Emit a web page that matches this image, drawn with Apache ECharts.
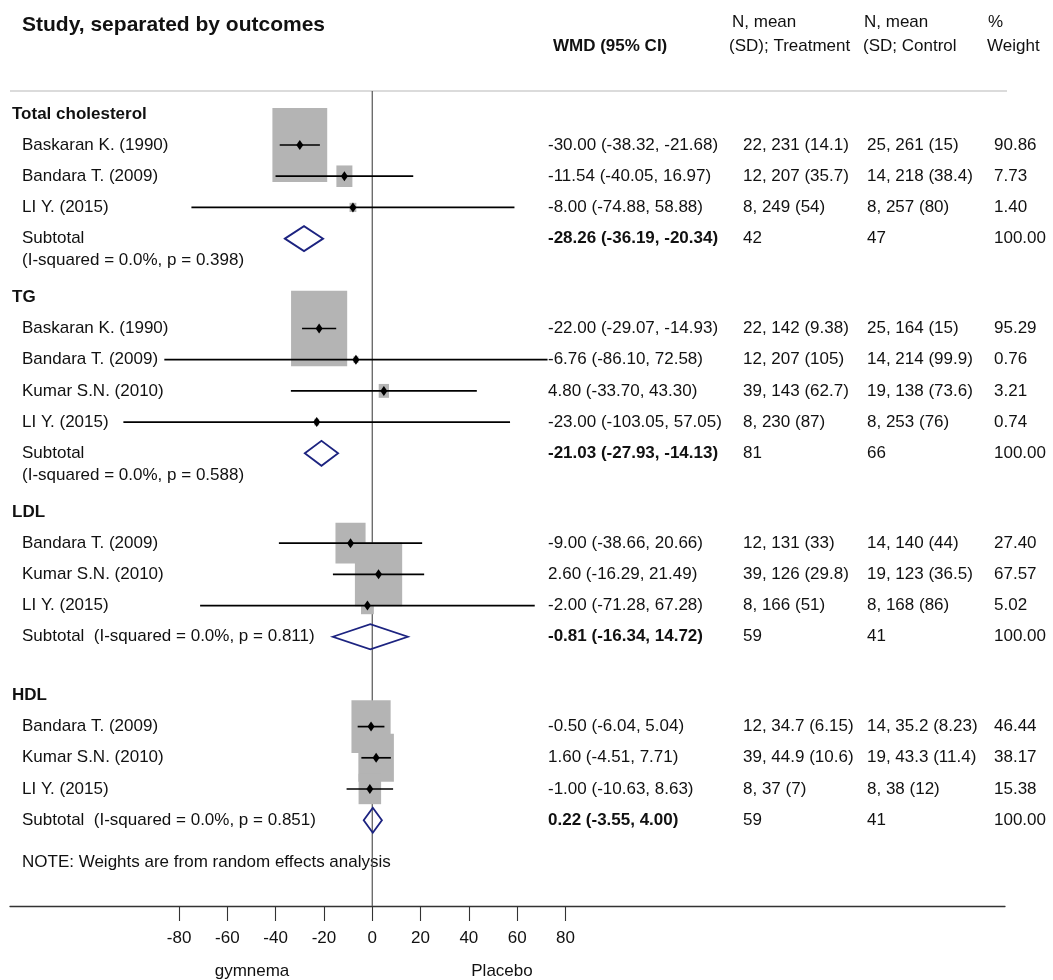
<!DOCTYPE html>
<html>
<head>
<meta charset="utf-8">
<title>Forest plot</title>
<script src="https://cdn.jsdelivr.net/npm/echarts@6/dist/echarts.min.js"></script>
<style>
  html, body { margin: 0; padding: 0; background: #fff; }
  #chart { width: 1053px; height: 980px; }
</style>
</head>
<body>
<div id="chart"></div>
<script>
// outcomes and studies
const outcomes = ['Total cholesterol', 'TG', 'LDL', 'HDL'];
const studyOutcome = [0, 0, 0, 1, 1, 1, 1, 2, 2, 2, 3, 3, 3];
const studyNames = [
  'Baskaran K. (1990)', 'Bandara T. (2009)', 'LI Y. (2015)',
  'Baskaran K. (1990)', 'Bandara T. (2009)', 'Kumar S.N. (2010)', 'LI Y. (2015)',
  'Bandara T. (2009)', 'Kumar S.N. (2010)', 'LI Y. (2015)',
  'Bandara T. (2009)', 'Kumar S.N. (2010)', 'LI Y. (2015)',
];
const studyWmd = [-30.00, -11.54, -8.00, -22.00, -6.76, 4.80, -23.00, -9.00, 2.60, -2.00, -0.50, 1.60, -1.00];
const studyLow = [-38.32, -40.05, -74.88, -29.07, -86.10, -33.70, -103.05, -38.66, -16.29, -71.28, -6.04, -4.51, -10.63];
const studyHigh = [-21.68, 16.97, 58.88, -14.93, 72.58, 43.30, 57.05, 20.66, 21.49, 67.28, 5.04, 7.71, 8.63];
const studyTreatment = [
  '22, 231 (14.1)', '12, 207 (35.7)', '8, 249 (54)',
  '22, 142 (9.38)', '12, 207 (105)', '39, 143 (62.7)', '8, 230 (87)',
  '12, 131 (33)', '39, 126 (29.8)', '8, 166 (51)',
  '12, 34.7 (6.15)', '39, 44.9 (10.6)', '8, 37 (7)',
];
const studyControl = [
  '25, 261 (15)', '14, 218 (38.4)', '8, 257 (80)',
  '25, 164 (15)', '14, 214 (99.9)', '19, 138 (73.6)', '8, 253 (76)',
  '14, 140 (44)', '19, 123 (36.5)', '8, 168 (86)',
  '14, 35.2 (8.23)', '19, 43.3 (11.4)', '8, 38 (12)',
];
const studyWeight = [90.86, 7.73, 1.40, 95.29, 0.76, 3.21, 0.74, 27.40, 67.57, 5.02, 46.44, 38.17, 15.38];

// subtotals per outcome
const subWmd = [-28.26, -21.03, -0.81, 0.22];
const subLow = [-36.19, -27.93, -16.34, -3.55];
const subHigh = [-20.34, -14.13, 14.72, 4.00];
const subLabels = [
  'Subtotal\n(I-squared = 0.0%, p = 0.398)',
  'Subtotal\n(I-squared = 0.0%, p = 0.588)',
  'Subtotal  (I-squared = 0.0%, p = 0.811)',
  'Subtotal  (I-squared = 0.0%, p = 0.851)',
];
const subTreatmentN = [42, 81, 59, 59];
const subControlN = [47, 66, 41, 41];
const subWeight = [100, 100, 100, 100];

// axis ticks
const xTicks = [-80, -60, -40, -20, 0, 20, 40, 60, 80];

const FONT = '"Liberation Sans", Arial, sans-serif';
const INK = '#111';
const GAP = 1.88;       // rows between a subtotal and the next heading
const SEP_ROW = -0.73;  // header rule / top of the null line
const Y_MIN = -1.02, Y_MAX = 25.39;

// row positions
const headRow = [], subRow = [], studyRow = [];
let r = 0;
outcomes.forEach((name, g) => {
  headRow.push(r);
  studyOutcome.forEach((o, i) => { if (o === g) { r += 1; studyRow[i] = r; } });
  r += 1;
  subRow.push(r);
  r += GAP;
});

const tableRows = [];
outcomes.forEach((name, g) => {
  tableRows.push({ kind: 'head', g, y: headRow[g] });
  studyOutcome.forEach((o, i) => { if (o === g) tableRows.push({ kind: 'study', i, y: studyRow[i] }); });
  tableRows.push({ kind: 'sub', g, y: subRow[g] });
});

const COL_HEAD = 12, COL_NAME = 22, COL_WMD = 548, COL_T = 743, COL_C = 867, COL_W = 994;

function txt(x, y, s, opt) {
  opt = opt || {};
  return {
    type: 'text', x, y,
    style: {
      text: s, fill: INK, fontFamily: FONT,
      fontSize: opt.size || 17, fontWeight: opt.bold ? 'bold' : 'normal',
      align: opt.align || 'left', textAlign: opt.align || 'left',
      verticalAlign: opt.va || 'middle', textVerticalAlign: opt.va || 'middle',
      lineHeight: opt.lh || 17,
    },
  };
}

function ci(v) { return v.toFixed(2); }

function renderTable(params, api) {
  const row = tableRows[params.dataIndex];
  const y = api.coord([0, row.y])[1];
  const kids = [];
  if (row.kind === 'head') {
    kids.push(txt(COL_HEAD, y, outcomes[row.g], { bold: true }));
  } else if (row.kind === 'study') {
    const i = row.i;
    kids.push(txt(COL_NAME, y, studyNames[i]));
    kids.push(txt(COL_WMD, y, `${ci(studyWmd[i])} (${ci(studyLow[i])}, ${ci(studyHigh[i])})`));
    kids.push(txt(COL_T, y, studyTreatment[i]));
    kids.push(txt(COL_C, y, studyControl[i]));
    kids.push(txt(COL_W, y, studyWeight[i].toFixed(2)));
  } else {
    const g = row.g;
    kids.push(txt(COL_NAME, y - 11, subLabels[g], { va: 'top', lh: 22 }));
    kids.push(txt(COL_WMD, y, `${ci(subWmd[g])} (${ci(subLow[g])}, ${ci(subHigh[g])})`, { bold: true }));
    kids.push(txt(COL_T, y, String(subTreatmentN[g])));
    kids.push(txt(COL_C, y, String(subControlN[g])));
    kids.push(txt(COL_W, y, subWeight[g].toFixed(2)));
  }
  return { type: 'group', children: kids };
}

function renderBox(params, api) {
  const c = api.coord([api.value(0), api.value(3)]);
  const s = Math.sqrt(api.value(4));
  const w = 5.75 * s, h = 7.75 * s;
  return {
    type: 'rect',
    shape: { x: c[0] - w / 2, y: c[1] - h / 2, width: w, height: h },
    style: { fill: '#b4b4b4' },
  };
}

function renderCI(params, api) {
  const y = api.value(3);
  const c = api.coord([api.value(0), y]);
  const lo = api.coord([api.value(1), y]);
  const hi = api.coord([api.value(2), y]);
  return {
    type: 'group',
    children: [
      { type: 'line', shape: { x1: lo[0], y1: lo[1], x2: hi[0], y2: hi[1] },
        style: { stroke: '#000', lineWidth: 1.7 } },
      { type: 'polygon',
        shape: { points: [[c[0], c[1] - 5], [c[0] + 3.5, c[1]], [c[0], c[1] + 5], [c[0] - 3.5, c[1]]] },
        style: { fill: '#000' } },
    ],
  };
}

function renderDiamond(params, api) {
  const y = api.value(3);
  const c = api.coord([api.value(0), y]);
  const lo = api.coord([api.value(1), y]);
  const hi = api.coord([api.value(2), y]);
  return {
    type: 'polygon',
    shape: { points: [[lo[0], c[1]], [c[0], c[1] - 12.5], [hi[0], c[1]], [c[0], c[1] + 12.5]] },
    style: { fill: 'none', stroke: '#1c2380', lineWidth: 1.8 },
  };
}

const studyData = studyWmd.map((v, i) => [v, studyLow[i], studyHigh[i], studyRow[i], studyWeight[i]]);
const subData = subWmd.map((v, g) => [v, subLow[g], subHigh[g], subRow[g]]);

const chart = echarts.init(document.getElementById('chart'), null, { renderer: 'canvas' });
chart.setOption({
  animation: false,
  backgroundColor: '#fff',
  grid: { left: 10, right: 48, top: 82, bottom: 74 },
  xAxis: {
    type: 'value', min: -150, max: 262,
    splitLine: { show: false },
    axisLine: { onZero: false, lineStyle: { color: '#333', width: 1.3 } },
    axisTick: { customValues: xTicks, length: 15, lineStyle: { color: '#333', width: 1.1 } },
    axisLabel: { customValues: xTicks, margin: 24, color: INK, fontSize: 17, fontFamily: FONT },
  },
  yAxis: { type: 'value', inverse: true, min: Y_MIN, max: Y_MAX, show: false },
  graphic: [
    txt(22, 25, 'Study, separated by outcomes', { bold: true, size: 21 }),
    txt(553, 46, 'WMD (95% CI)', { bold: true }),
    txt(732, 22, 'N, mean'),
    txt(729, 46, '(SD); Treatment'),
    txt(864, 22, 'N, mean'),
    txt(863, 46, '(SD; Control'),
    txt(988, 22, '%'),
    txt(987, 46, 'Weight'),
    txt(22, 862, 'NOTE: Weights are from random effects analysis'),
    txt(252, 971, 'gymnema', { align: 'center' }),
    txt(502, 971, 'Placebo', { align: 'center' }),
  ],
  series: [
    { name: 'header rule', type: 'line', z: 1, silent: true, symbol: 'none', clip: false,
      data: [[-150, SEP_ROW], [263.5, SEP_ROW]],
      lineStyle: { color: '#cfcfcf', width: 1.5 } },
    { name: 'null line', type: 'line', z: 1, silent: true, symbol: 'none',
      data: [[0, SEP_ROW], [0, Y_MAX]],
      lineStyle: { color: '#555', width: 1.2 } },
    { name: 'weights', type: 'custom', z: 2, renderItem: renderBox, data: studyData,
      encode: { x: 0, y: 3 } },
    { name: 'studies', type: 'custom', z: 3, renderItem: renderCI, data: studyData,
      encode: { x: [1, 2], y: 3 } },
    { name: 'subtotals', type: 'custom', z: 3, renderItem: renderDiamond, data: subData,
      encode: { x: [1, 2], y: 3 } },
    { name: 'table', type: 'custom', z: 4, renderItem: renderTable,
      data: tableRows.map(t => [0, t.y]), encode: { x: 0, y: 1 } },
  ],
});
</script>
</body>
</html>
